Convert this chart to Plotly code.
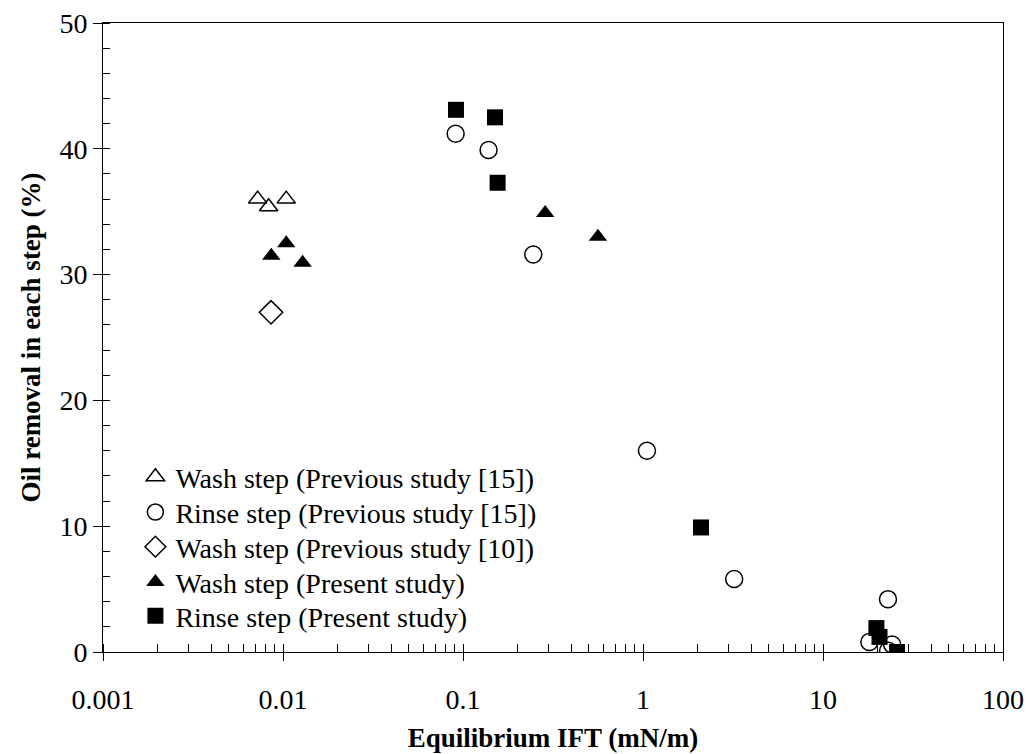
import plotly.graph_objects as go

# Data
wash_prev15_x = [0.00723, 0.00832, 0.01042]
wash_prev15_y = [36.0, 35.4, 36.0]

rinse_prev15_x = [0.091, 0.1387, 0.2457, 1.052, 3.21, 22.96, 18.1, 24.2, 23.0]
rinse_prev15_y = [41.2, 39.9, 31.6, 16.0, 5.8, 4.2, 0.8, 0.6, 0.1]

wash_prev10_x = [0.00858]
wash_prev10_y = [27.0]

wash_present_x = [0.00861, 0.01042, 0.01285, 0.286, 0.562]
wash_present_y = [31.5, 32.5, 30.95, 34.9, 33.0]

rinse_present_x = [0.0914, 0.1506, 0.1557, 2.1, 19.8, 20.6, 25.8]
rinse_present_y = [43.1, 42.5, 37.3, 9.9, 1.9, 1.2, 0.0]

x_tickvals = [0.001, 0.01, 0.1, 1, 10, 100]
x_ticktext = ["0.001", "0.01", "0.1", "1", "10", "100"]
y_tickvals = [0, 10, 20, 30, 40, 50]

FONT = "Liberation Serif, Times New Roman, serif"

series = [
    ("Wash step (Previous study [15])", wash_prev15_x, wash_prev15_y,
     dict(symbol="triangle-up-open", size=16, color="black", line=dict(width=1.5, color="black"))),
    ("Rinse step (Previous study [15])", rinse_prev15_x, rinse_prev15_y,
     dict(symbol="circle-open", size=17, color="black", line=dict(width=1.5, color="black"))),
    ("Wash step (Previous study [10])", wash_prev10_x, wash_prev10_y,
     dict(symbol="diamond-open", size=18, color="black", line=dict(width=1.5, color="black"))),
    ("Wash step (Present study)", wash_present_x, wash_present_y,
     dict(symbol="triangle-up", size=16, color="black")),
    ("Rinse step (Present study)", rinse_present_x, rinse_present_y,
     dict(symbol="square", size=16, color="black")),
]

# legend row centres (paper fraction of the plot area height)
legend_rows = [0.278, 0.222, 0.167, 0.111, 0.057]

fig = go.Figure()
layout_legends = {}
for i, (name, xs, ys, mk) in enumerate(series):
    key = "legend" if i == 0 else f"legend{i+1}"
    fig.add_trace(go.Scatter(x=xs, y=ys, mode="markers", name=name, marker=mk,
                             legend=key))
    layout_legends[key] = dict(x=0.036, y=legend_rows[i], xanchor="left", yanchor="middle",
                               font=dict(family=FONT, size=28, color="black"),
                               bgcolor="rgba(0,0,0,0)", itemsizing="trace", itemwidth=30)

xr = [-3, 2]
yr = [0, 50]

fig.update_layout(
    width=1033, height=754,
    margin=dict(l=103, r=30, t=23, b=102),
    paper_bgcolor="white", plot_bgcolor="white",
    font=dict(family=FONT, size=28, color="black"),
    showlegend=True,
    xaxis=dict(type="log", range=xr, tickvals=x_tickvals, ticktext=x_ticktext,
               ticks="outside", ticklen=8, tickwidth=1, tickcolor="black",
               showline=True, linecolor="black", linewidth=1, mirror=True,
               showgrid=False, zeroline=False, ticklabelstandoff=14, automargin=False,
               tickfont=dict(family=FONT, size=28),
               minor=dict(ticks="inside", ticklen=8, tickcolor="black", dtick="D1", showgrid=False),
               title=dict(text="<b>Equilibrium IFT (mN/m)</b>", font=dict(family=FONT, size=27), standoff=14)),
    yaxis=dict(range=yr, tickvals=y_tickvals,
               ticks="outside", ticklen=9, tickwidth=1, tickcolor="black",
               showline=True, linecolor="black", linewidth=1, mirror=True,
               showgrid=False, zeroline=False, automargin=False,
               tickfont=dict(family=FONT, size=28),
               minor=dict(ticks="inside", ticklen=7, tickcolor="black", dtick=2, showgrid=False),
               title=dict(text="<b>Oil removal in each step (%)</b>", font=dict(family=FONT, size=27), standoff=10)),
    xaxis2=dict(type="log", range=xr, overlaying="x", side="bottom", tickvals=x_tickvals,
                ticks="inside", ticklen=8, tickcolor="black", showticklabels=False,
                showgrid=False, zeroline=False, showline=False),
    yaxis2=dict(range=yr, overlaying="y", side="left", tickvals=y_tickvals,
                ticks="inside", ticklen=9, tickcolor="black", showticklabels=False,
                showgrid=False, zeroline=False, showline=False),
    **layout_legends,
)

fig.write_html("out.html")
